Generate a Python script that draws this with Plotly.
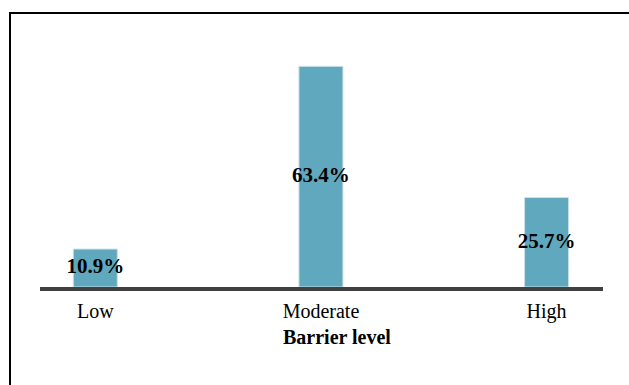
import plotly.graph_objects as go

categories = ["Low", "Moderate", "High"]
values = [10.9, 63.4, 25.7]
labels = ["10.9%", "63.4%", "25.7%"]
x_title = "Barrier level"

W, H = 629, 385
ml, mr, mt, mb = 40, 26, 30, 98
pw, ph = W - ml - mr, H - mt - mb

FONT = "Liberation Serif"
bar_color = "#5fa8bd"

fig = go.Figure()
fig.add_trace(go.Bar(
    x=list(range(len(categories))), y=values, width=0.195,
    marker=dict(color=bar_color, line=dict(color="#c9e2ea", width=1)),
    hoverinfo="skip", showlegend=False,
))
fig.add_trace(go.Scatter(
    x=list(range(len(categories))), y=[v / 2 for v in values],
    mode="text", text=labels,
    textfont=dict(family=FONT, size=21, color="#000000", weight="bold"),
    hoverinfo="skip", showlegend=False, cliponaxis=False,
))

fig.update_layout(
    width=W, height=H,
    margin=dict(l=ml, r=mr, t=mt, b=mb, pad=0),
    paper_bgcolor="white", plot_bgcolor="white",
    font=dict(family=FONT, size=20, color="#000000"),
    xaxis=dict(
        range=[-0.245, 2.25], tickmode="array",
        tickvals=list(range(len(categories))), ticktext=categories,
        showline=True, linewidth=4, linecolor="#404040",
        showgrid=False, zeroline=False, ticks="",
        tickfont=dict(family=FONT, size=20, color="#000000"),
        ticklabelstandoff=3,
    ),
    yaxis=dict(range=[0, ph / 3.48], visible=False, showgrid=False, zeroline=False),
    shapes=[dict(
        type="rect", xref="paper", yref="paper",
        x0=(10 - ml) / pw, x1=(W + 20 - ml) / pw,
        y0=-1.0, y1=1 + (mt - 13) / ph,
        line=dict(color="#000000", width=2), fillcolor="rgba(0,0,0,0)", layer="below",
    )],
    annotations=[dict(
        text="<b>" + x_title + "</b>", xref="paper", yref="paper",
        x=(337 - ml) / pw, y=-(337 - (H - mb)) / ph,
        xanchor="center", yanchor="middle", showarrow=False,
        font=dict(family=FONT, size=20, color="#000000"),
    )],
)

fig.write_html("out.html")
